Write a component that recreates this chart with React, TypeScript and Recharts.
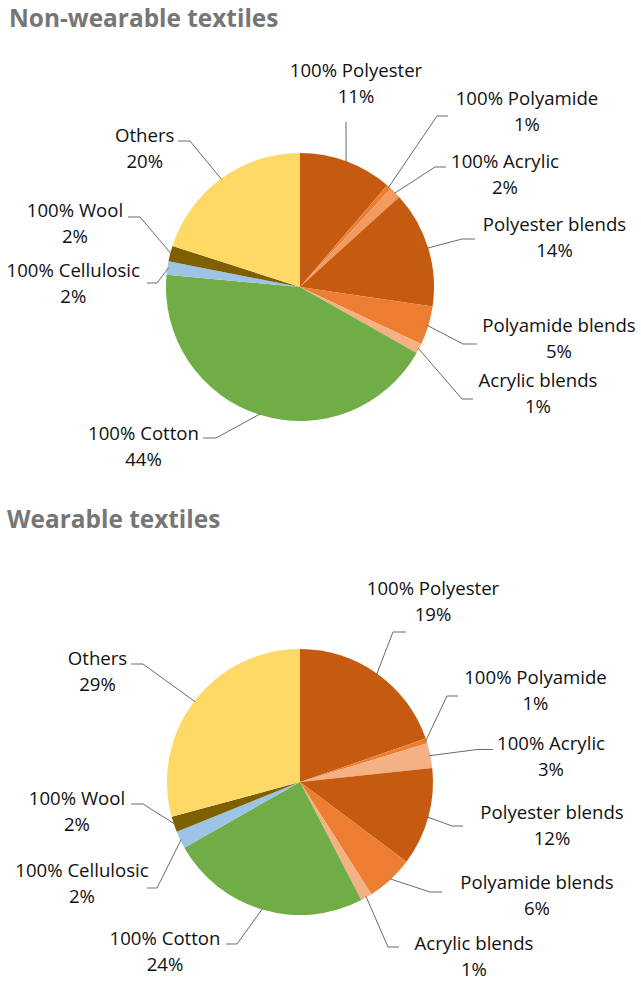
import React from "react";
import { PieChart, Pie, Cell } from "recharts";

const categories = [
  "100% Polyester",
  "100% Polyamide",
  "100% Acrylic",
  "Polyester blends",
  "Polyamide blends",
  "Acrylic blends",
  "100% Cotton",
  "100% Cellulosic",
  "100% Wool",
  "Others",
];

// shares (%)
const nonWearableValues = [11.3, 0.6, 1.4, 14.1, 4.7, 1.2, 43.4, 1.6, 1.9, 20.1];
const wearableValues = [19.7, 0.6, 3.0, 11.9, 5.75, 1.4, 24.4, 2.1, 1.9, 29.2];

// percentages printed in the labels
const nonWearableLabels = [11, 1, 2, 14, 5, 1, 44, 2, 2, 20];
const wearableLabels = [19, 1, 3, 12, 6, 1, 24, 2, 2, 29];

const titles = ["Non-wearable textiles", "Wearable textiles"];

const nonWearableColors = [
  "#C55A11", "#ED7D31", "#F29B5E", "#C55A11", "#ED7D31",
  "#F4B183", "#70AD47", "#9DC3E6", "#7F6000", "#FFD966",
];
const wearableColors = [
  "#C55A11", "#ED7D31", "#F4B183", "#C55A11", "#ED7D31",
  "#F4B183", "#70AD47", "#9DC3E6", "#7F6000", "#FFD966",
];

// label layout, offsets from pie centre: [textX, textY(line1 centre), elbowX, elbowY, endX]
const nonWearableLayout = [
  [56, -217, 46, -165, 46],
  [227, -189, 137, -171, 148],
  [205, -126, 135, -120, 146],
  [254.5, -63, 162, -48, 175],
  [259, 38, 163, 57, 177],
  [238, 93, 162, 112, 173],
  [-156.5, 146, -84, 151, -97],
  [-226.7, -17, -143, -4, -153],
  [-225, -77, -160, -70, -172],
  [-155.3, -152, -110, -146, -122],
];
const wearableLayout = [
  [133, -194, 93, -150, 106],
  [235.5, -105, 147, -86, 158],
  [251, -39, 177, -32.5, 193],
  [252, 30, 152, 44, 163],
  [237, 100, 130, 110, 142],
  [174, 161, 88, 165, 99],
  [-135, 156, -63, 162, -74],
  [-218, 88, -143, 106, -153],
  [-223, 16, -157, 22, -169],
  [-202.5, -124, -157, -118, -169],
];

const W = 641;
const H = 981;
const FONT = "'Open Sans', sans-serif";
const RAD = Math.PI / 180;

const makeData = (values: number[], labels: number[]) =>
  categories.map((name, i) => ({ name, value: values[i], pct: labels[i] }));

const nonWearableData = makeData(nonWearableValues, nonWearableLabels);
const wearableData = makeData(wearableValues, wearableLabels);

const makeLabel = (layout: number[][], labels: number[]) => (props: any) => {
  const { cx, cy, midAngle, outerRadius, index } = props;
  const [tx, ty, ex, ey, endX] = layout[index];
  const r = outerRadius - 1;
  const sx = cx + r * Math.cos(-midAngle * RAD);
  const sy = cy + r * Math.sin(-midAngle * RAD);
  const pts = `${sx},${sy} ${cx + ex},${cy + ey} ${cx + endX},${cy + ey}`;
  return (
    <g key={`lbl-${index}`}>
      <polyline points={pts} fill="none" stroke="#6b6b6b" strokeWidth={1} />
      <text
        x={cx + tx}
        y={cy + ty + 6.5}
        textAnchor="middle"
        fontFamily={FONT}
        fontSize={18.6}
        fill="#111"
      >
        {categories[index]}
      </text>
      <text
        x={cx + tx}
        y={cy + ty + 33}
        textAnchor="middle"
        fontFamily={FONT}
        fontSize={18.6}
        fill="#111"
      >
        {`${labels[index]}%`}
      </text>
    </g>
  );
};

export default function App() {
  return (
    <div style={{ position: "absolute", left: 0, top: 0, width: W, height: H, background: "#fff" }}>
      <PieChart width={W} height={H} margin={{ top: 0, right: 0, bottom: 0, left: 0 }}>
        <Pie
          data={nonWearableData}
          dataKey="value"
          nameKey="name"
          cx={300}
          cy={287}
          outerRadius={134}
          startAngle={90}
          endAngle={-270}
          stroke="none"
          isAnimationActive={false}
          labelLine={false}
          label={makeLabel(nonWearableLayout, nonWearableLabels)}
        >
          {nonWearableData.map((d, i) => (
            <Cell key={d.name} fill={nonWearableColors[i]} />
          ))}
        </Pie>
        <Pie
          data={wearableData}
          dataKey="value"
          nameKey="name"
          cx={300}
          cy={782}
          outerRadius={133}
          startAngle={90}
          endAngle={-270}
          stroke="none"
          isAnimationActive={false}
          labelLine={false}
          label={makeLabel(wearableLayout, wearableLabels)}
        >
          {wearableData.map((d, i) => (
            <Cell key={d.name} fill={wearableColors[i]} />
          ))}
        </Pie>
      </PieChart>
      <svg width={W} height={H} style={{ position: "absolute", left: 0, top: 0, pointerEvents: "none" }}>
        <text x={9} y={26.5} fontFamily={FONT} fontWeight={700} fontSize={24.4} fill="#767676">
          {titles[0]}
        </text>
        <text x={7} y={527.5} fontFamily={FONT} fontWeight={700} fontSize={24.4} fill="#767676">
          {titles[1]}
        </text>
      </svg>
    </div>
  );
}
